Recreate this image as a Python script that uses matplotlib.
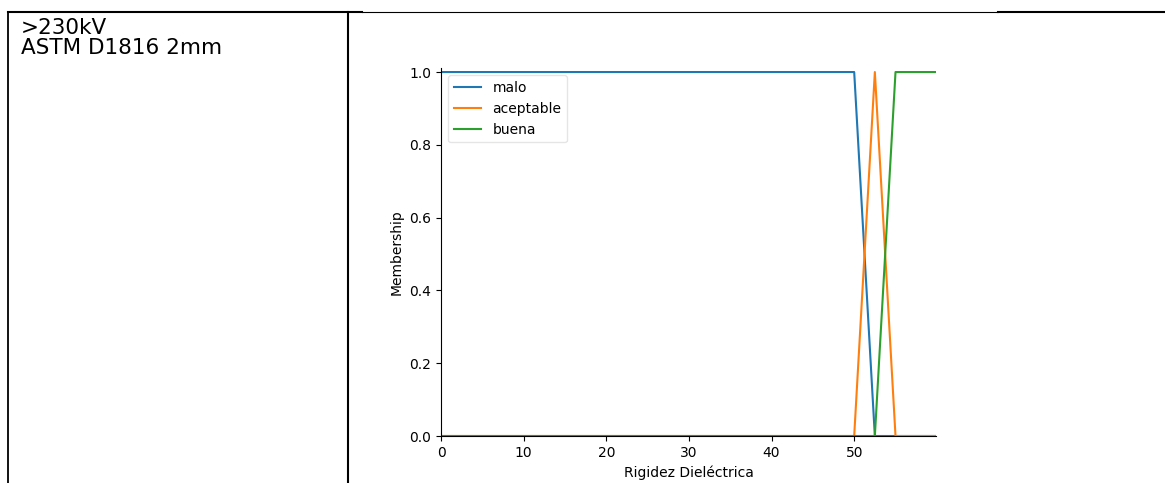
import matplotlib.pyplot as plt
from matplotlib.lines import Line2D

# cell text on the left
cell_lines = [">230kV", "ASTM D1816 2mm"]

# membership functions (breakpoints)
malo_x = [0, 50, 52.5, 59.9]
malo_y = [1, 1, 0, 0]
aceptable_x = [0, 50, 52.5, 55, 59.9]
aceptable_y = [0, 0, 1, 0, 0]
buena_x = [0, 52.5, 55, 59.9]
buena_y = [0, 0, 1, 1]
labels = ["malo", "aceptable", "buena"]

W, H = 1165, 483
fig = plt.figure(figsize=(W / 100, H / 100), dpi=100)


def px(x, y):
    # pixel coords (top-left origin) -> figure fraction
    return x / W, 1 - y / H


def hline(x0, x1, y, lw):
    a, b = px(x0, y)
    c, _ = px(x1, y)
    fig.add_artist(Line2D([a, c], [b, b], color="black", lw=lw))


def vline(x, y0, y1, lw):
    a, b = px(x, y0)
    _, d = px(x, y1)
    fig.add_artist(Line2D([a, a], [b, d], color="black", lw=lw))


# table borders
hline(8, 362, 12, 1.5)
hline(362, 998, 12, 0.8)
hline(998, 1165, 12, 1.5)
vline(8, 12, 483, 1.3)
vline(347.5, 12, 483, 1.5)

fx, fy = px(21, 17.5)
fig.text(fx, fy, "\n".join(cell_lines), fontsize=15.5, family="DejaVu Sans",
         va="top", ha="left", linespacing=1.05)

# plot area
left, top = px(441, 68.4)
right, bottom = px(936, 436)
ax = fig.add_axes([left, bottom, right - left, top - bottom])

ax.plot(malo_x, malo_y, label=labels[0])
ax.plot(aceptable_x, aceptable_y, label=labels[1])
ax.plot(buena_x, buena_y, label=labels[2])

ax.set_xlim(malo_x[0], malo_x[-1])
ax.set_ylim(0, 1.01)
ax.set_ylabel("Membership")
ax.set_xlabel("Rigidez Dieléctrica")
ax.spines["top"].set_visible(False)
ax.spines["right"].set_visible(False)
ax.legend(framealpha=0.5, loc="upper left")

fig.savefig("out.png", dpi=100)
